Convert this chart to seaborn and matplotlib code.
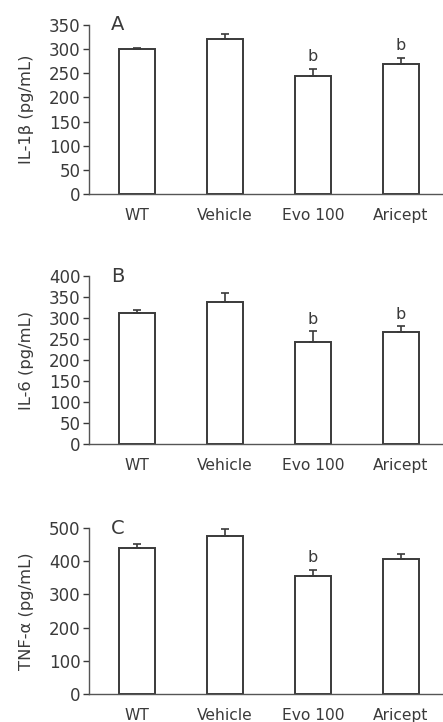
#!/usr/bin/env python3

import matplotlib
matplotlib.use("Agg")
import matplotlib.pyplot as plt
import pandas as pd
import seaborn as sns

groups = ["WT", "Vehicle", "Evo 100", "Aricept"]

il1b_mean = [300, 320, 245, 270]
il1b_sem = [3, 12, 14, 12]
il1b_sig = ["", "", "b", "b"]

il6_mean = [312, 337, 244, 267]
il6_sem = [7, 22, 24, 13]
il6_sig = ["", "", "b", "b"]

tnf_mean = [439, 477, 354, 406]
tnf_sem = [14, 20, 21, 16]
tnf_sig = ["", "", "b", ""]

panels = [
    ("A", "IL-1β (pg/mL)", il1b_mean, il1b_sem, il1b_sig, 350, 50),
    ("B", "IL-6 (pg/mL)", il6_mean, il6_sem, il6_sig, 400, 50),
    ("C", "TNF-α (pg/mL)", tnf_mean, tnf_sem, tnf_sig, 500, 100),
]

sns.set_theme(style="ticks")
plt.rcParams["font.family"] = ["DejaVu Sans"]

W, H = 443, 722
fig = plt.figure(figsize=(W / 100, H / 100), dpi=100)

# pixel boxes (top, bottom) for each panel axes
boxes = [(25, 194), (276, 444), (528, 694)]
left, right = 89, 443
ink = "#3a3a3a"

for (letter, ylabel, mean, sem, sig, ymax, step), (top, bottom) in zip(panels, boxes):
    ax = fig.add_axes([left / W, (H - bottom) / H, (right - left) / W, (bottom - top) / H])
    df = pd.DataFrame({"group": groups, "value": mean})
    sns.barplot(
        data=df,
        x="group",
        y="value",
        ax=ax,
        color="white",
        edgecolor=ink,
        linewidth=1.4,
        width=0.41,
        errorbar=None,
    )
    ax.errorbar(
        range(len(groups)),
        mean,
        yerr=[[0] * len(sem), sem],
        fmt="none",
        ecolor=ink,
        elinewidth=1.2,
        capsize=3,
        capthick=1.2,
    )
    for i, s in enumerate(sig):
        if s:
            ax.annotate(
                s,
                (i, mean[i] + sem[i]),
                xytext=(0, 3.5),
                textcoords="offset points",
                ha="center",
                va="bottom",
                fontsize=11.5,
                color=ink,
            )
    ax.set_xlim(-0.55, 3.48)
    ax.set_ylim(0, ymax)
    ax.set_yticks(range(0, ymax + 1, step))
    ax.set_xlabel("")
    ax.set_ylabel(ylabel, fontsize=11.8, color=ink, labelpad=11)
    ax.tick_params(axis="y", direction="out", length=4, width=1, colors=ink, labelsize=12, pad=2)
    ax.tick_params(axis="x", length=0, colors=ink, labelsize=11.2, pad=10)
    sns.despine(ax=ax)
    for sp in ["left", "bottom"]:
        ax.spines[sp].set_color("#555555")
        ax.spines[sp].set_linewidth(1)
    ax.text(0.063, 1.0, letter, transform=ax.transAxes, fontsize=14, color=ink,
            ha="left", va="center")

fig.savefig("out.png", dpi=100)
